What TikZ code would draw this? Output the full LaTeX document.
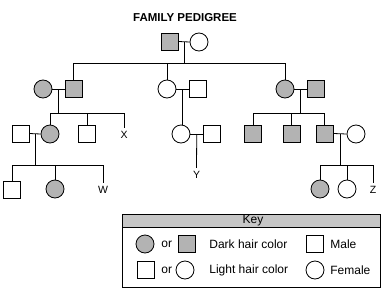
\documentclass[tikz,border=0pt]{standalone}
\usepackage{fontspec}
\setmainfont{Liberation Sans}
\usetikzlibrary{calc}
\begin{document}
\begin{tikzpicture}[x=1pt,y=-1pt,line width=0.8pt,
  male/.style={draw,rectangle,minimum size=17pt,inner sep=0pt,fill=white},
  female/.style={draw,circle,minimum size=18pt,inner sep=0pt,fill=white},
  dmale/.style={male,fill=dark},
  dfemale/.style={female,fill=dark},
  lbl/.style={font=\fontsize{10.5}{12}\selectfont,inner sep=0pt},
  keytxt/.style={font=\fontsize{12}{14}\selectfont,inner sep=0pt,anchor=west}]
\definecolor{dark}{HTML}{B3B3B3}
\definecolor{keyhead}{HTML}{C6C6C6}
\useasboundingbox (0,0) rectangle (382,289);
\node[font=\bfseries\fontsize{11.5}{13}\selectfont] (title) at (185,18) {FAMILY PEDIGREE};
% generation 1
\node[dmale] (g1m) at (169.5,41.5) {};
\node[female] (g1f) at (199,42) {};
\draw (g1m.east) -- (g1f.west);
\coordinate (g1c) at ($(g1m.east)!0.5!(g1f.west)$);
\coordinate (s1) at (183,63);
% generation 2
\node[dfemale] (aF) at (43,89) {};
\node[dmale] (aM) at (73.5,89) {};
\node[female] (bF) at (167,89) {};
\node[male] (bM) at (198,89) {};
\node[dfemale] (cF) at (285,89) {};
\node[dmale] (cM) at (316,89) {};
\draw (g1c) -- (g1c|-s1);
\draw (aM.north|-s1) -- (cF.north|-s1);
\draw (aM.north|-s1) -- (aM.north);
\draw (bF.north|-s1) -- (bF.north);
\draw (cF.north|-s1) -- (cF.north);
\draw (aF.east) -- (aM.west);
\draw (bF.east) -- (bM.west);
\draw (cF.east) -- (cM.west);
\coordinate (ac) at ($(aF.east)!0.5!(aM.west)$);
\coordinate (bc) at ($(bF.east)!0.5!(bM.west)$);
\coordinate (cc) at ($(cF.east)!0.5!(cM.west)$);
\coordinate (s2) at (0,113);
% generation 3 left
\node[male] (dM) at (20.5,133.5) {};
\node[dfemale] (dF) at (50,134) {};
\node[male] (eM) at (87,133.5) {};
\node[lbl] (X) at (124,135) {X};
\draw (ac) -- (ac|-s2);
\draw (dF.north|-s2) -- (X.north|-s2);
\draw (dF.north|-s2) -- (dF.north);
\draw (eM.north|-s2) -- (eM.north);
\draw (X.north|-s2) -- ($(X.north)+(0,-2.5)$);
\draw (dM.east) -- (dF.west);
\coordinate (dc) at ($(dM.east)!0.5!(dF.west)$);
% generation 3 middle
\node[female] (fF) at (181,134) {};
\node[male] (fM) at (212,134) {};
\draw (bc) -- (bc|-fF.north);
\draw (fF.east) -- (fM.west);
\coordinate (fc) at ($(fF.east)!0.5!(fM.west)$);
% generation 3 right
\node[dmale] (h1) at (253,133.5) {};
\node[dmale] (h2) at (291.5,133.5) {};
\node[dmale] (h3) at (324.5,133.5) {};
\node[female] (hF) at (356,134) {};
\draw (cc) -- (cc|-s2);
\draw (h1.north|-s2) -- (h3.north|-s2);
\draw (h1.north|-s2) -- (h1.north);
\draw (h2.north|-s2) -- (h2.north);
\draw (h3.north|-s2) -- (h3.north);
\draw (h3.east) -- (hF.west);
\coordinate (hc) at ($(h3.east)!0.5!(hF.west)$);
\coordinate (s3) at (0,165);
% generation 4
\node[male] (k1) at (12,190) {};
\node[dfemale] (k2) at (55,189) {};
\node[lbl] (W) at (103,190) {W};
\draw (dc) -- (dc|-s3);
\draw (k1.north|-s3) -- (W.north|-s3);
\draw (k1.north|-s3) -- (k1.north);
\draw (k2.north|-s3) -- (k2.north);
\draw (W.north|-s3) -- ($(W.north)+(0,-2.5)$);
\node[lbl] (Y) at (196.5,175) {Y};
\draw (fc) -- ($(Y.north)+(0,-3)$);
\node[dfemale] (m1) at (320,189) {};
\node[female] (m2) at (347,189) {};
\node[lbl] (Z) at (373,190) {Z};
\draw (hc) -- (hc|-s3);
\draw (m1.north|-s3) -- (Z.north|-s3);
\draw (m1.north|-s3) -- (m1.north);
\draw (m2.north|-s3) -- (m2.north);
\draw (Z.north|-s3) -- ($(Z.north)+(0,-2.5)$);
% key
\draw[fill=keyhead] (122,214) rectangle (380,227);
\draw (122,227) rectangle (380,287);
\node[font=\fontsize{12}{14}\selectfont] (keyt) at (253,220.5) {Key};
\node[dfemale] (k1c) at (145,244) {};
\node[keytxt] (or1) at (161,244) {or};
\node[dmale] (k1s) at (186.5,244) {};
\node[keytxt] (dark) at (209,244) {Dark hair color};
\node[male] (k1m) at (315,244) {};
\node[keytxt] (male) at (330,244) {Male};
\node[male] (k2s) at (145.5,270) {};
\node[keytxt] (or2) at (161,270) {or};
\node[female] (k2c) at (185,270) {};
\node[keytxt] (light) at (209,270) {Light hair color};
\node[female] (k2f) at (315,270) {};
\node[keytxt] (female) at (330,270) {Female};
\end{tikzpicture}
\end{document}
